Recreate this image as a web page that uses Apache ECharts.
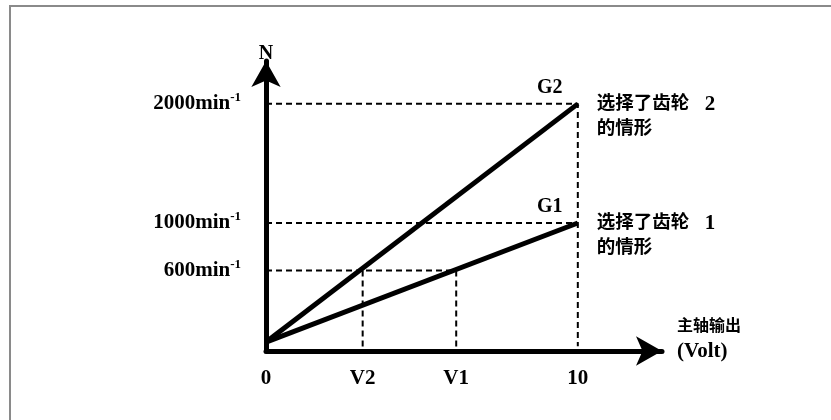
<!DOCTYPE html>
<html>
<head>
<meta charset="utf-8">
<script src="https://cdn.jsdelivr.net/npm/echarts@6/dist/echarts.min.js"></script>
<style>html,body{margin:0;padding:0;background:#fff;}#c{width:831px;height:420px;}</style>
</head>
<body>
<div id="c"></div>
<script>
// ---- data ----
const voltage = [0, 10];
const gear1Speed = [0, 1000];
const gear2Speed = [0, 2000];
const V1 = 6.1;
const V2 = 3.1;
const speedTicks = [600, 1000, 2000];
const voltTickValues = [0, V2, V1, 10];
const voltTickLabels = ['0', 'V2', 'V1', '10'];
const gear1Name = 'G1';
const gear2Name = 'G2';
const gear1Text = '选择了齿轮　{d|1}\n的情形';
const gear2Text = '选择了齿轮　{d|2}\n的情形';

const SERIF = "'Liberation Serif', serif";
const FONT = "'Liberation Serif', 'Noto Sans CJK SC', serif";
const yMin = -75, yMax = 2360, xMax = 12.7;

function gearSeries(name, speeds, gLabel, text) {
  const data = voltage.map((v, i) => [v, speeds[i]]);
  data[data.length - 1] = {
    value: data[data.length - 1],
    label: { show: true, formatter: gLabel, position: 'top', offset: [-28, -1],
      fontFamily: SERIF, fontWeight: 'bold', fontSize: 20, color: '#000' }
  };
  return {
    type: 'line', name: name, data: data, z: 5,
    symbol: 'circle', symbolSize: 1, showSymbol: true,
    itemStyle: { color: '#000' },
    lineStyle: { color: '#000', width: 5 },
    endLabel: { show: true, formatter: text, color: '#000', fontFamily: FONT,
      fontWeight: 'bold', fontSize: 18.5, lineHeight: 25, distance: 19,
      align: 'left', verticalAlign: 'top', offset: [0, -12],
      rich: { d: { fontFamily: SERIF, fontWeight: 'bold', fontSize: 21, color: '#000', lineHeight: 25, padding: [0, 0, 0, -3] } } }
  };
}
function guide(points) {
  return { type: 'line', data: points, symbol: 'none', z: 2, silent: true,
    lineStyle: { color: '#000', width: 2, type: [6, 4] } };
}

const chart = echarts.init(document.getElementById('c'), null, { renderer: 'canvas' });
chart.setOption({
  animation: false,
  backgroundColor: '#fff',
  graphic: [{ type: 'rect', shape: { x: 10, y: 6, width: 900, height: 500 },
    style: { fill: 'none', stroke: '#8a8a8a', lineWidth: 2 }, silent: true }],
  grid: { left: 266, top: 61, width: 396, bottom: 69 },
  xAxis: {
    type: 'value', min: 0, max: xMax,
    name: '主轴输出\n{v|(Volt)}', nameLocation: 'end', nameGap: 15,
    nameTextStyle: { fontFamily: FONT, fontWeight: 'bold', fontSize: 16, color: '#000',
      lineHeight: 25, align: 'left', padding: [0, 0, 24, 0],
      rich: { v: { fontFamily: SERIF, fontWeight: 'bold', fontSize: 21, color: '#000', lineHeight: 25 } } },
    axisLine: { show: true, onZero: false, lineStyle: { color: '#000', width: 5 },
      symbol: ['none', 'arrow'], symbolSize: [22, 26] },
    axisTick: { show: false }, splitLine: { show: false },
    axisLabel: { customValues: voltTickValues, margin: 17, color: '#000',
      fontFamily: SERIF, fontWeight: 'bold', fontSize: 21,
      formatter: v => voltTickLabels[voltTickValues.indexOf(v)] }
  },
  yAxis: {
    type: 'value', min: yMin, max: yMax,
    name: 'N', nameLocation: 'end', nameGap: -3,
    nameTextStyle: { fontFamily: SERIF, fontWeight: 'bold', fontSize: 20, color: '#000',
      align: 'center' },
    axisLine: { show: true, onZero: false, lineStyle: { color: '#000', width: 5 },
      symbol: ['none', 'arrow'], symbolSize: [22, 26] },
    axisTick: { show: false }, splitLine: { show: false },
    axisLabel: { customValues: speedTicks, margin: 25, color: '#000',
      fontFamily: SERIF, fontWeight: 'bold', fontSize: 21,
      formatter: v => v + 'min{sup|-1}',
      rich: { sup: { fontFamily: SERIF, fontWeight: 'bold', fontSize: 13, color: '#000',
        verticalAlign: 'top', padding: [0, 0, 12, 0] } } }
  },
  series: [
    guide([[0, speedTicks[2]], [voltage[1], speedTicks[2]], [voltage[1], yMin + 40]]),
    guide([[0, speedTicks[1]], [voltage[1], speedTicks[1]]]),
    guide([[0, speedTicks[0]], [V1, speedTicks[0]], [V1, yMin]]),
    guide([[V2, speedTicks[0]], [V2, yMin + 30]]),
    gearSeries('gear2', gear2Speed, gear2Name, gear2Text),
    gearSeries('gear1', gear1Speed, gear1Name, gear1Text)
  ]
});
</script>
</body>
</html>
